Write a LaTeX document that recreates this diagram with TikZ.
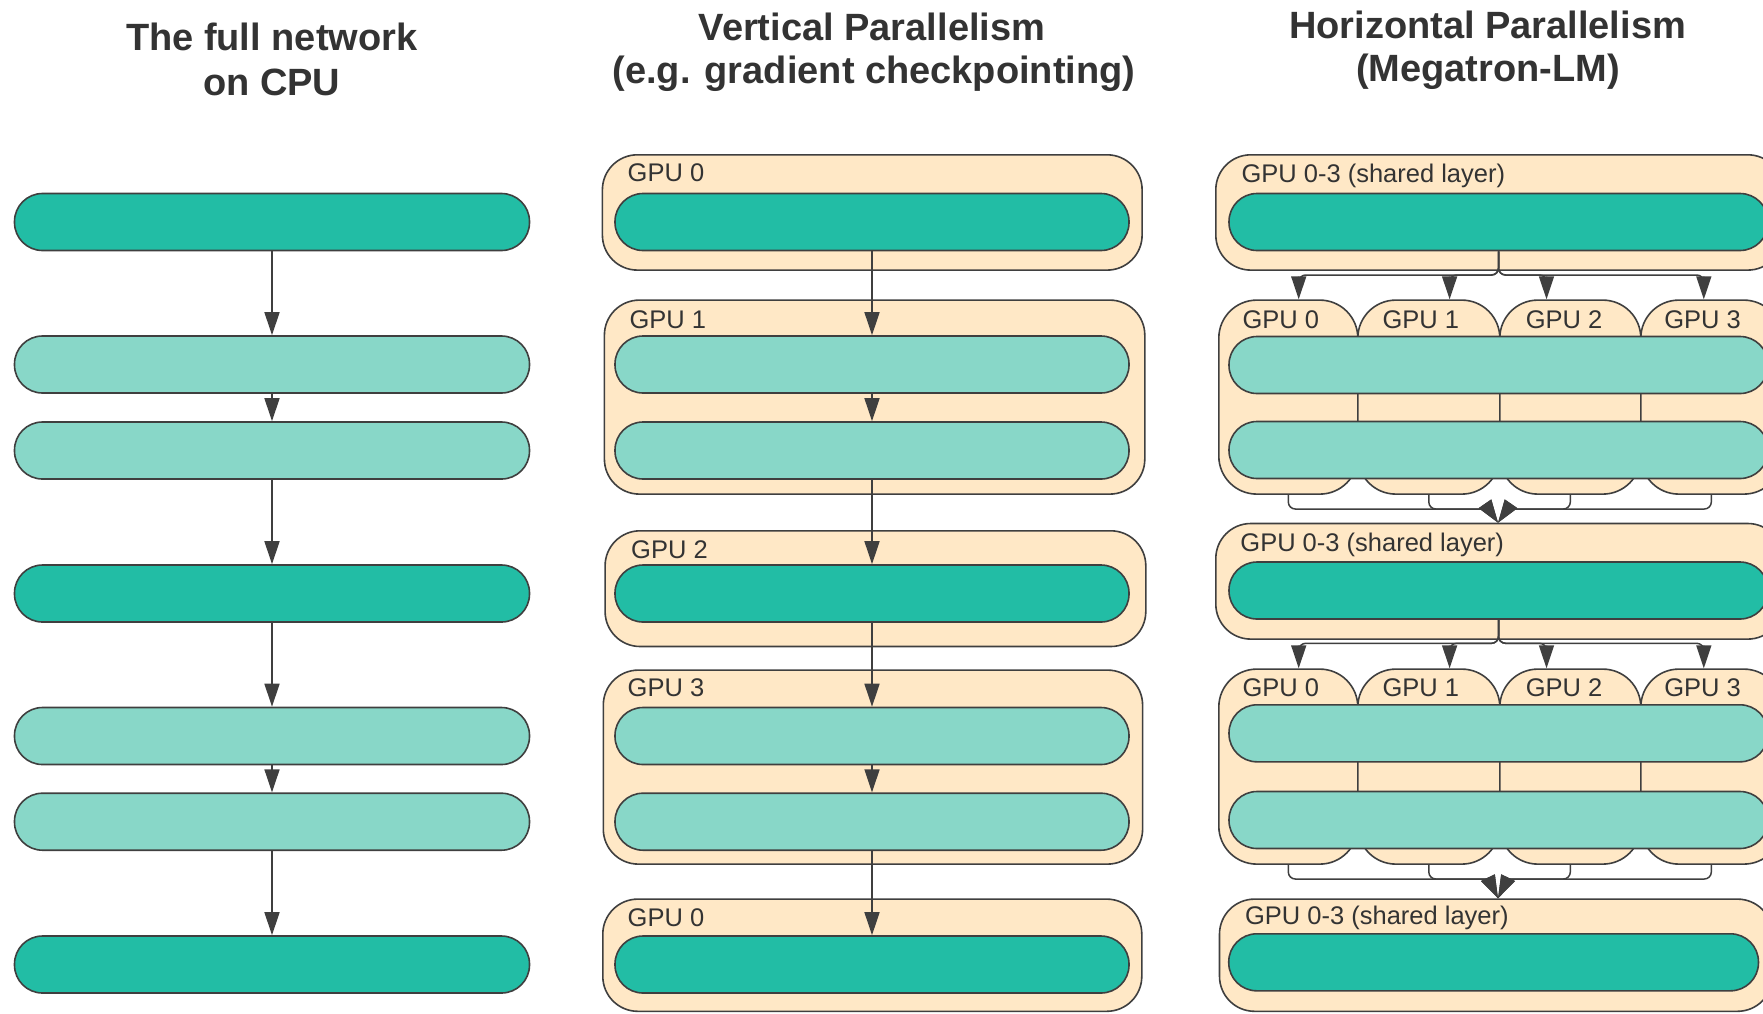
\documentclass[tikz,border=0pt]{standalone}
\usepackage{fontspec}
\setmainfont{Liberation Sans}
\usetikzlibrary{arrows.meta,calc}
\definecolor{tealdark}{HTML}{22BDA5}
\definecolor{teallight}{HTML}{88D7C8}
\definecolor{gpufill}{HTML}{FFE8C6}
\definecolor{edge}{HTML}{3F3F3F}
\definecolor{ink}{HTML}{333333}

\begin{document}
\begin{tikzpicture}[x=1pt,y=-1pt,
  layer/.style={draw=edge, line width=1.6pt, rounded corners=28pt, minimum height=57pt, inner sep=0pt, anchor=center},
  dark/.style={layer, fill=tealdark},
  light/.style={layer, fill=teallight},
  gpubox/.style={draw=edge, fill=gpufill, line width=1.6pt, rounded corners=35pt, inner sep=0pt, anchor=north west},
  gputab/.style={gpubox, rounded corners=38pt},
  gpulabel/.style={font=\fontsize{25.5}{30}\selectfont, text=ink, inner sep=0pt, anchor=base west},
  tablabel/.style={gpulabel, anchor=base},
  title/.style={font=\fontsize{38}{45}\selectfont\bfseries, text=ink, inner sep=0pt, anchor=base},
  arr/.style={draw=edge, line width=1.5pt, -{Triangle[length=23pt,width=15pt]}},
]
\useasboundingbox (0,0) rectangle (1763,1013);
\clip (0,0) rectangle (1763,1013);
\fill[white] (0,0) rectangle (1763,1013);

% ---------- column titles ----------
\node[title] (t1a) at (271.7,50) {The full network};
\node[title] (t1b) at (271.7,95) {on CPU};
\node[title] (t2a) at (872,40) {Vertical Parallelism};
\node[title] (t2b) at (874,83.3) {(e.g. gradient checkpointing)};
\node[title] (t3a) at (1487.5,38.3) {Horizontal Parallelism};
\node[title] (t3b) at (1488,81.7) {(Megatron-LM)};

% ---------- left column: the full network ----------
\foreach \n/\y/\s in {1/222/dark, 2/364.5/light, 3/450.5/light, 4/593.5/dark,
                      5/736/light, 6/821.7/light, 7/964.5/dark}
  \node[\s, minimum width=515pt] (L\n) at (272,\y) {};
\foreach \a/\b in {1/2, 2/3, 3/4, 4/5, 5/6, 6/7}
  \draw[arr] (L\a.south) -- (L\b.north);

% ---------- middle column: one GPU per group of layers ----------
\node[gpubox, minimum width=539.7pt, minimum height=115.3pt] (GA) at (601.6,154) {};
\node[gpubox, minimum width=540.4pt, minimum height=194pt]   (GB) at (603.6,299.3) {};
\node[gpubox, minimum width=540.7pt, minimum height=115.7pt] (GC) at (604.3,530) {};
\node[gpubox, minimum width=539.3pt, minimum height=194pt]   (GD) at (602.5,669.3) {};
\node[gpubox, minimum width=539pt,   minimum height=112.2pt] (GE) at (602,898.3) {};

\node[gpulabel] (lA) at (627.5,181.7) {GPU 0};
\node[gpulabel] (lB) at (629.3,328.3) {GPU 1};
\node[gpulabel] (lC) at (631,558.3)   {GPU 2};
\node[gpulabel] (lD) at (627.5,696.7) {GPU 3};
\node[gpulabel] (lE) at (627.5,926.7) {GPU 0};

\foreach \n/\y/\s in {1/222/dark, 2/364.5/light, 3/450.5/light, 4/593.5/dark,
                      5/736/light, 6/821.7/light, 7/964.5/dark}
  \node[\s, minimum width=514pt] (M\n) at (872,\y) {};
\foreach \a/\b in {1/2, 2/3, 3/4, 4/5, 5/6, 6/7}
  \draw[arr] (M\a.south) -- (M\b.north);

% ---------- right column: layers split across GPU 0-3 ----------
\node[gpubox, minimum width=567pt, minimum height=115.3pt] (S1) at (1215,154) {};
\node[gpubox, minimum width=567pt, minimum height=115.6pt] (S2) at (1215,522.7) {};
\node[gpubox, minimum width=553pt, minimum height=112.2pt] (S3) at (1218.7,898.3) {};

\foreach \k/\x/\w in {a/1218/139, b/1357/142, c/1499/141, d/1640/141} {
  \node[gputab, minimum width=\w pt, minimum height=194pt] (T1\k) at (\x,299.3) {};
  \node[gputab, minimum width=\w pt, minimum height=195pt] (T2\k) at (\x,668.3) {};
}

\node[gpulabel] (lS1) at (1241.3,182.7) {GPU 0-3 (shared layer)};
\node[gpulabel] (lS2) at (1240.2,551)   {GPU 0-3 (shared layer)};
\node[gpulabel] (lS3) at (1244.9,924)   {GPU 0-3 (shared layer)};
\foreach \k/\x/\t in {a/1280.8/0, b/1420.8/1, c/1564/2, d/1702.5/3} {
  \node[tablabel] (lT1\k) at (\x,328.3) {GPU \t};
  \node[tablabel] (lT2\k) at (\x,696.7) {GPU \t};
}

\node[dark,  minimum width=539pt] (R1) at (1498.5,222) {};
\node[light, minimum width=539pt] (R2) at (1498.5,365) {};
\node[light, minimum width=539pt] (R3) at (1498.5,450) {};
\node[dark,  minimum width=539pt] (R4) at (1498.5,590.5) {};
\node[light, minimum width=539pt] (R5) at (1498.5,733.3) {};
\node[light, minimum width=539pt] (R6) at (1498.5,820) {};
\node[dark,  minimum width=529.7pt] (R7) at (1493.6,962.3) {};

% fan-out from a shared layer to the four GPUs
\coordinate (f1) at (1498.5,275);
\coordinate (f2) at (1498.5,643.3);
\foreach \k/\x in {a/1298.7, b/1449.6, c/1546.5, d/1703.8} {
  \coordinate (in1\k) at (\x,299.3);
  \coordinate (in2\k) at (\x,668.3);
  \draw[arr, rounded corners=7pt] (R1.south) -- (f1) -- (f1 -| in1\k) -- (in1\k);
  \draw[arr, rounded corners=7pt] (R4.south) -- (f2) -- (f2 -| in2\k) -- (in2\k);
}

% fan-in from the four GPUs to the next shared layer
\coordinate (g1) at (1498,509);
\coordinate (g2) at (1498,879);
\coordinate (tip1) at (1498,522.7);
\coordinate (tip2) at (1498,898.3);
\foreach \k/\s in {a/-1, b/-1, c/1, d/1} {
  \draw[arr, rounded corners=7pt] (T1\k.south) -- (T1\k.south |- g1) -- ($(g1)+(\s*14,0)$)
    .. controls ($(g1)+(\s*4,0)$) and ($(g1)+(\s*6,5)$) .. (tip1);
  \draw[arr, rounded corners=7pt] (T2\k.south) -- (T2\k.south |- g2) -- ($(g2)+(\s*14,0)$)
    .. controls ($(g2)+(\s*4,0)$) and ($(g2)+(\s*6,7)$) .. (tip2);
}
\end{tikzpicture}
\end{document}
